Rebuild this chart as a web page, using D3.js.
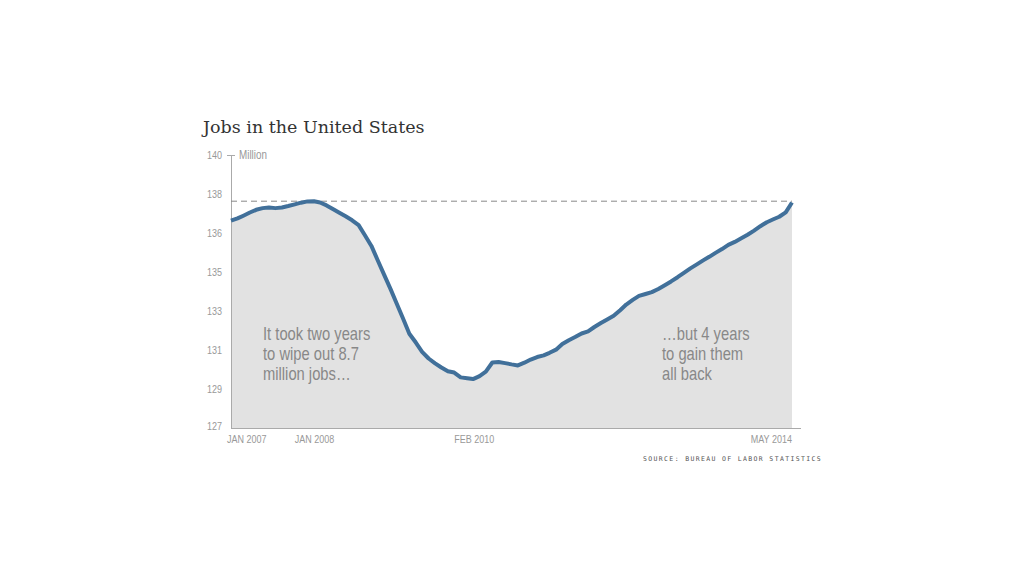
<!DOCTYPE html>
<html><head><meta charset="utf-8">
<script src="https://cdn.jsdelivr.net/npm/d3@7"></script>
<style>body{margin:0;background:#fff}svg{display:block}</style>
</head><body>
<svg id="chart" width="1024" height="576"></svg>
<script>
// ---- data (millions of jobs, monthly Jan 2007 – May 2014) ----
const startDate = new Date(2007, 0, 1);
const jobs = [
  136.87,136.98,137.11,137.26,137.39,137.47,137.50,137.47,137.50,137.57,137.65,137.73,
  137.79,137.80,137.74,137.60,137.43,137.25,137.08,136.89,136.66,136.18,135.67,134.99,
  134.29,133.60,132.94,132.21,131.49,131.07,130.63,130.31,130.08,129.88,129.70,129.64,
  129.41,129.37,129.33,129.47,129.68,130.12,130.14,130.09,130.03,129.98,130.11,130.26,
  130.38,130.46,130.58,130.73,131.00,131.18,131.33,131.50,131.60,131.81,132.00,132.17,
  132.34,132.61,132.88,133.10,133.29,133.38,133.47,133.62,133.80,133.98,134.18,134.39,
  134.60,134.79,134.97,135.15,135.34,135.52,135.72,135.86,136.03,136.20,136.40,136.61,
  136.80,136.94,137.06,137.27,137.74
];
const yDomain = [127, 140];
const yTickLabels = ["127","129","131","133","135","136","138","140"];
const xTickMonths = [0, 12, 37, 88];
const xTickLabels = ["JAN 2007","JAN 2008","FEB 2010","MAY 2014"];
const title = "Jobs in the United States";
const unitLabel = "Million";
const sourceText = "SOURCE: BUREAU OF LABOR STATISTICS";
const noteLeft = ["It took two years","to wipe out 8.7","million jobs\u2026"];
const noteRight = ["\u2026but 4 years","to gain them","all back"];

// ---- font detection ----
function hasFont(name){
  const c = document.createElement('canvas').getContext('2d');
  const s = "mmmmwwwiiilllMMWW0123";
  c.font = "40px monospace"; const a = c.measureText(s).width;
  c.font = "40px '" + name + "', monospace"; const b = c.measureText(s).width;
  return a !== b;
}
const narrow = hasFont("Liberation Sans Narrow");
const squeeze = narrow ? 1 : 0.82;
const cf = narrow ? "'Liberation Sans Narrow', sans-serif" : "'Liberation Sans', Arial, sans-serif";

// ---- layout ----
const L = 231, R = 792, T = 155, B = 428, axisEnd = 801;
const data = jobs.map((v, i) => ({date: d3.timeMonth.offset(startDate, i), v}));
const x = d3.scaleTime().domain(d3.extent(data, d => d.date)).range([L, R]);
const y = d3.scaleLinear().domain(yDomain).range([B, T]);

const svg = d3.select("#chart");

function ctext(g, px, py, str, anchor){
  return g.append("text")
    .attr("transform", `translate(${px},${py}) scale(${squeeze},1)`)
    .attr("text-anchor", anchor || "start")
    .style("font-family", cf)
    .text(str);
}

// title
svg.append("text").attr("x", 203).attr("y", 133)
  .style("font-family", "'DejaVu Serif', serif").style("font-size", "17.5px")
  .attr("fill", "#333").text(title);

// area
svg.append("path").datum(data)
  .attr("fill", "#e2e2e2")
  .attr("d", d3.area().x(d => x(d.date)).y0(B).y1(d => y(d.v)));

// axes lines
svg.append("line").attr("x1", L).attr("x2", L).attr("y1", T).attr("y2", B)
  .attr("stroke", "#aaa").attr("stroke-width", 1).attr("shape-rendering","crispEdges");
svg.append("line").attr("x1", L).attr("x2", axisEnd).attr("y1", B).attr("y2", B)
  .attr("stroke", "#aaa").attr("stroke-width", 1).attr("shape-rendering","crispEdges");
svg.append("line").attr("x1", L - 4).attr("x2", L + 4).attr("y1", y(yDomain[1])).attr("y2", y(yDomain[1]))
  .attr("stroke", "#aaa").attr("stroke-width", 1).attr("shape-rendering","crispEdges");

// y tick labels (evenly spaced)
const gy = svg.append("g").attr("fill", "#999").style("font-size", "11px");
yTickLabels.forEach((lab, i) => {
  const val = yDomain[0] + i * (yDomain[1] - yDomain[0]) / (yTickLabels.length - 1);
  ctext(gy, 222, y(val) + (i === 0 ? 2 : 4), lab, "end");
});
const gu = svg.append("g").attr("fill", "#999").style("font-size", "12px");
ctext(gu, 239, y(yDomain[1]) + 4, unitLabel, "start");

// x tick labels
const gx = svg.append("g").attr("fill", "#999").style("font-size", "11px");
xTickMonths.forEach((m, i) => {
  const d = d3.timeMonth.offset(startDate, m);
  const last = i === xTickMonths.length - 1;
  const anchor = i === 0 ? "start" : (last ? "end" : "middle");
  const dx = i === 0 ? -4 : (last ? 0 : 7);
  ctext(gx, x(d) + dx, 443, xTickLabels[i], anchor);
});

// dashed reference at previous peak
const peak = d3.max(data.slice(0, 40), d => d.v);
svg.append("line").attr("x1", L).attr("x2", R).attr("y1", y(peak)).attr("y2", y(peak))
  .attr("stroke", "#888").attr("stroke-width", 1).attr("stroke-dasharray", "6,4");

// line
svg.append("path").datum(data)
  .attr("fill", "none").attr("stroke", "#41709a").attr("stroke-width", 4)
  .attr("stroke-linejoin", "round").attr("stroke-linecap", "butt")
  .attr("d", d3.line().x(d => x(d.date)).y(d => y(d.v)));

// annotations
const ga = svg.append("g").attr("fill", "#888").style("font-size", "18px");
noteLeft.forEach((s, i) => ctext(ga, 263, 340 + i * 20, s, "start"));
noteRight.forEach((s, i) => ctext(ga, 662, 340 + i * 20, s, "start"));

// source
svg.append("text").attr("x", 822).attr("y", 461).attr("text-anchor", "end")
  .style("font-family", "'DejaVu Sans Mono', monospace").style("font-size", "6.5px")
  .style("letter-spacing", "1.35px").attr("fill", "#555").text(sourceText);
</script>
</body></html>
